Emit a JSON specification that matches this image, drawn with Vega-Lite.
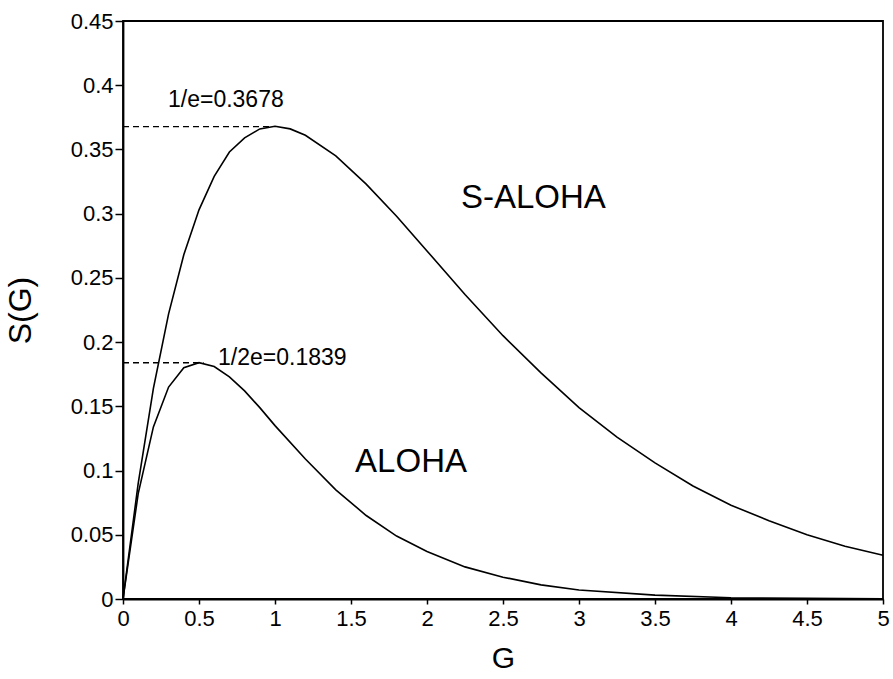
{
  "$schema": "https://vega.github.io/schema/vega-lite/v6.json",
  "width": 760,
  "height": 578,
  "autosize": {"type": "none"},
  "padding": {"left": 123, "top": 21, "right": 10, "bottom": 80},
  "background": "white",
  "config": {
    "font": "Liberation Sans",
    "view": {"stroke": "black", "strokeWidth": 1.8},
    "axis": {
      "domainColor": "black", "domainWidth": 1.8, "tickColor": "black", "tickWidth": 1.5,
      "labelColor": "black", "labelFont": "Liberation Sans", "labelFontSize": 22,
      "titleColor": "black", "titleFont": "Liberation Sans", "titleFontWeight": "normal",
      "grid": false
    }
  },
  "datasets": {
    "curves": [
      {"series": "S-ALOHA", "G": 0, "S": 0},
      {"series": "S-ALOHA", "G": 0.1, "S": 0.09},
      {"series": "S-ALOHA", "G": 0.2, "S": 0.164},
      {"series": "S-ALOHA", "G": 0.3, "S": 0.222},
      {"series": "S-ALOHA", "G": 0.4, "S": 0.268},
      {"series": "S-ALOHA", "G": 0.5, "S": 0.303},
      {"series": "S-ALOHA", "G": 0.6, "S": 0.329},
      {"series": "S-ALOHA", "G": 0.7, "S": 0.348},
      {"series": "S-ALOHA", "G": 0.8, "S": 0.359},
      {"series": "S-ALOHA", "G": 0.9, "S": 0.366},
      {"series": "S-ALOHA", "G": 1.0, "S": 0.368},
      {"series": "S-ALOHA", "G": 1.1, "S": 0.366},
      {"series": "S-ALOHA", "G": 1.2, "S": 0.361},
      {"series": "S-ALOHA", "G": 1.4, "S": 0.345},
      {"series": "S-ALOHA", "G": 1.6, "S": 0.323},
      {"series": "S-ALOHA", "G": 1.8, "S": 0.298},
      {"series": "S-ALOHA", "G": 2.0, "S": 0.271},
      {"series": "S-ALOHA", "G": 2.25, "S": 0.237},
      {"series": "S-ALOHA", "G": 2.5, "S": 0.205},
      {"series": "S-ALOHA", "G": 2.75, "S": 0.176},
      {"series": "S-ALOHA", "G": 3.0, "S": 0.149},
      {"series": "S-ALOHA", "G": 3.25, "S": 0.126},
      {"series": "S-ALOHA", "G": 3.5, "S": 0.106},
      {"series": "S-ALOHA", "G": 3.75, "S": 0.088},
      {"series": "S-ALOHA", "G": 4.0, "S": 0.073},
      {"series": "S-ALOHA", "G": 4.25, "S": 0.061},
      {"series": "S-ALOHA", "G": 4.5, "S": 0.05},
      {"series": "S-ALOHA", "G": 4.75, "S": 0.041},
      {"series": "S-ALOHA", "G": 5.0, "S": 0.034},
      {"series": "ALOHA", "G": 0, "S": 0},
      {"series": "ALOHA", "G": 0.1, "S": 0.082},
      {"series": "ALOHA", "G": 0.2, "S": 0.134},
      {"series": "ALOHA", "G": 0.3, "S": 0.165},
      {"series": "ALOHA", "G": 0.4, "S": 0.18},
      {"series": "ALOHA", "G": 0.5, "S": 0.184},
      {"series": "ALOHA", "G": 0.6, "S": 0.181},
      {"series": "ALOHA", "G": 0.7, "S": 0.173},
      {"series": "ALOHA", "G": 0.8, "S": 0.162},
      {"series": "ALOHA", "G": 0.9, "S": 0.149},
      {"series": "ALOHA", "G": 1.0, "S": 0.135},
      {"series": "ALOHA", "G": 1.2, "S": 0.109},
      {"series": "ALOHA", "G": 1.4, "S": 0.085},
      {"series": "ALOHA", "G": 1.6, "S": 0.065},
      {"series": "ALOHA", "G": 1.8, "S": 0.049},
      {"series": "ALOHA", "G": 2.0, "S": 0.037},
      {"series": "ALOHA", "G": 2.25, "S": 0.025},
      {"series": "ALOHA", "G": 2.5, "S": 0.017},
      {"series": "ALOHA", "G": 2.75, "S": 0.011},
      {"series": "ALOHA", "G": 3.0, "S": 0.007},
      {"series": "ALOHA", "G": 3.5, "S": 0.003},
      {"series": "ALOHA", "G": 4.0, "S": 0.001},
      {"series": "ALOHA", "G": 4.5, "S": 0.0005},
      {"series": "ALOHA", "G": 5.0, "S": 0.0002}
    ],
    "refs": [
      {"G": 0, "G2": 0.98, "S": 0.3678},
      {"G": 0, "G2": 0.53, "S": 0.1839}
    ],
    "small": [
      {"G": 0.296, "S": 0.383, "label": "1/e=0.3678"},
      {"G": 0.625, "S": 0.182, "label": "1/2e=0.1839"}
    ],
    "big": [
      {"G": 2.7, "S": 0.3044, "label": "S-ALOHA"},
      {"G": 1.895, "S": 0.099, "label": "ALOHA"}
    ]
  },
  "layer": [
    {
      "data": {"name": "curves"},
      "mark": {"type": "line", "color": "black", "strokeWidth": 1.6},
      "encoding": {
        "x": {"field": "G", "type": "quantitative",
              "scale": {"domain": [0, 5], "nice": false, "zero": true},
              "axis": {"values": [0, 0.5, 1, 1.5, 2, 2.5, 3, 3.5, 4, 4.5, 5], "format": "~g",
                       "title": "G", "titleFontSize": 30, "titlePadding": 14, "tickSize": 5, "labelPadding": 4, "labelFlush": false}},
        "y": {"field": "S", "type": "quantitative",
              "scale": {"domain": [0, 0.45], "nice": false},
              "axis": {"values": [0, 0.05, 0.1, 0.15, 0.2, 0.25, 0.3, 0.35, 0.4, 0.45], "format": "~g",
                       "title": "S(G)", "titleFontSize": 32, "titlePadding": 33, "tickSize": 8, "labelPadding": 2, "labelFlush": false}},
        "detail": {"field": "series", "type": "nominal"}
      }
    },
    {
      "data": {"name": "refs"},
      "mark": {"type": "rule", "color": "black", "strokeWidth": 1.4, "strokeDash": [6, 4]},
      "encoding": {
        "x": {"field": "G", "type": "quantitative"},
        "x2": {"field": "G2"},
        "y": {"field": "S", "type": "quantitative"}
      }
    },
    {
      "data": {"name": "small"},
      "mark": {"type": "text", "fontSize": 23, "align": "left", "baseline": "alphabetic", "color": "black", "font": "Liberation Sans"},
      "encoding": {
        "x": {"field": "G", "type": "quantitative"},
        "y": {"field": "S", "type": "quantitative"},
        "text": {"field": "label"}
      }
    },
    {
      "data": {"name": "big"},
      "mark": {"type": "text", "fontSize": 33, "align": "center", "baseline": "alphabetic", "color": "black", "font": "Liberation Sans"},
      "encoding": {
        "x": {"field": "G", "type": "quantitative"},
        "y": {"field": "S", "type": "quantitative"},
        "text": {"field": "label"}
      }
    }
  ]
}
